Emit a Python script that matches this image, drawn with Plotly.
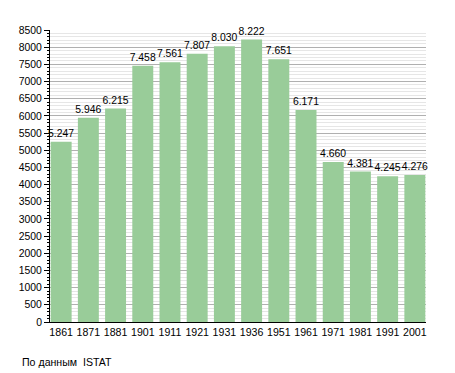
import plotly.graph_objects as go

years = ["1861", "1871", "1881", "1901", "1911", "1921", "1931", "1936",
         "1951", "1961", "1971", "1981", "1991", "2001"]
population = [5247, 5946, 6215, 7458, 7561, 7807, 8030, 8222,
              7651, 6171, 4660, 4381, 4245, 4276]
y_ticks = list(range(0, 8501, 500))
source_note = "По данным  ISTAT"

FONT = "Liberation Sans, Arial, sans-serif"

fig = go.Figure(go.Bar(
    x=years, y=population,
    marker=dict(color="#99cc99", line=dict(width=0)),
    texttemplate="%{y:,}", textposition="outside",
    constraintext="none",
    textfont=dict(family=FONT, size=10.4, color="#000"),
    cliponaxis=False,
    hoverinfo="skip",
))

fig.update_layout(
    width=455, height=373,
    margin=dict(l=50, r=29, t=30, b=51),
    paper_bgcolor="white", plot_bgcolor="white",
    separators=",.",
    bargap=0.23,
    showlegend=False,
    font=dict(family=FONT, size=10.4, color="#000"),
    xaxis=dict(
        type="category", range=[-0.41, 13.41],
        showline=True, linecolor="#000", linewidth=1,
        ticks="", showgrid=False,
        tickfont=dict(size=10.6, color="#000"),
    ),
    yaxis=dict(
        range=[0, 8500], tickvals=y_ticks,
        showline=True, linecolor="#000", linewidth=1,
        ticks="outside", ticklen=5, tickcolor="#000",
        showgrid=True, gridcolor="#b0b0b0", gridwidth=1,
        zeroline=False,
        tickfont=dict(size=10.4, color="#000"),
        minor=dict(dtick=100, showgrid=True, gridcolor="#e6e6e6",
                   ticks="outside", ticklen=2, tickcolor="#000"),
    ),
    annotations=[dict(
        text=source_note, xref="paper", yref="paper",
        x=-50/376, y=-40/292, xanchor="left", yanchor="middle",
        showarrow=False, font=dict(size=10.6, color="#000"),
        xshift=20,
    )],
)

fig.write_html("out.html", config={"displayModeBar": False},
               post_script="document.body.style.margin='0';document.body.style.overflow='hidden';")
